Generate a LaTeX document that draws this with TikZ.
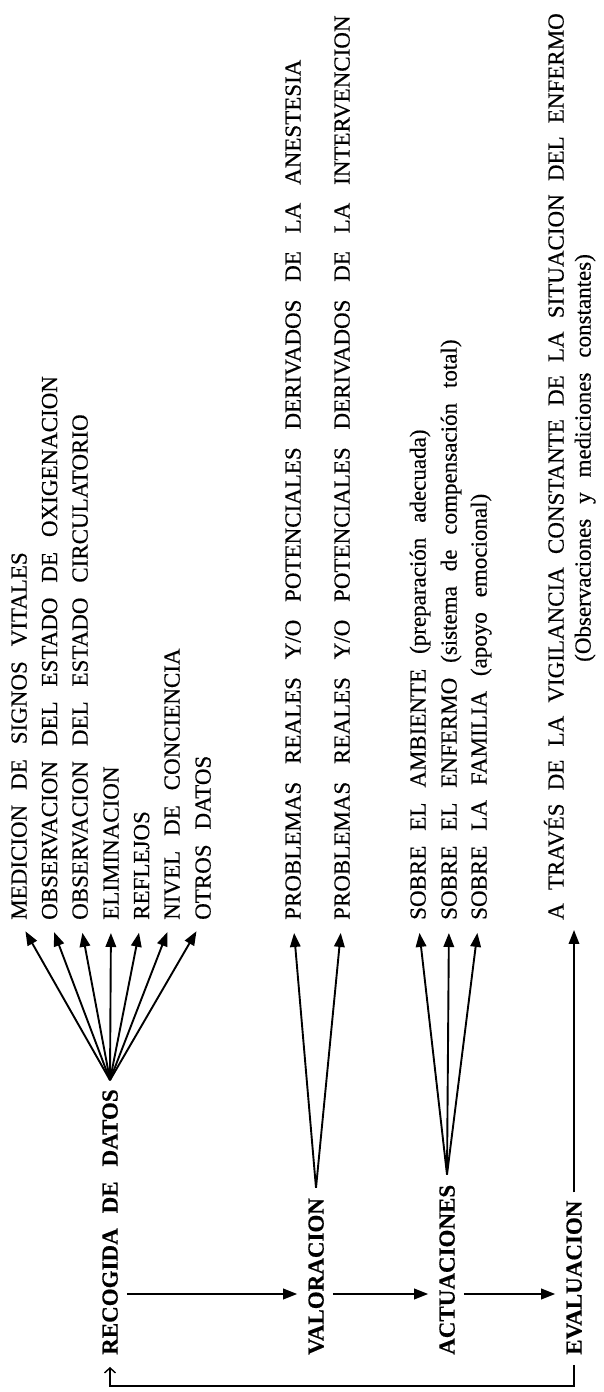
\documentclass[tikz,border=0pt]{standalone}
\usepackage{fontspec}
\setmainfont{Liberation Serif}[WordSpace=2.6,FakeBold=0.4]
\usetikzlibrary{arrows.meta}

\newcommand\loosesp{\spaceskip 17.8pt\relax}
\newcommand\tightsp{\spaceskip 13.2pt\relax}

\tikzset{
  item/.style={rotate=90,anchor=west,inner sep=0pt,text height=15.2pt,text depth=0pt,
    font=\fontsize{23}{27}\selectfont},
  stage/.style={item,font=\fontsize{23}{27}\selectfont\bfseries},
  loose/.style={font=\fontsize{23}{27}\selectfont\loosesp},
  tight/.style={font=\fontsize{23}{27}\selectfont\tightsp},
  flow/.style={line width=1.9pt,-{Triangle[length=14pt,width=10.5pt]}},
  back/.style={line width=1.4pt,-{Straight Barb[length=5pt,width=11pt]}}
}

\begin{document}
\begin{tikzpicture}[x=1pt,y=1pt]
\useasboundingbox (0,0) rectangle (604,1392);

% etapas
\node[stage] (rec) at (110,37) {RECOGIDA DE DATOS};
\node[stage] (val) at (316,37) {VALORACION};
\node[stage] (act) at (447,37) {ACTUACIONES};
\node[stage] (eva) at (574,37) {EVALUACION};

% recogida de datos
\node[item] (m1) at (19,472) {MEDICION DE SIGNOS VITALES};
\node[item] (m2) at (49.5,472) {OBSERVACION DEL ESTADO DE OXIGENACION};
\node[item] (m3) at (80,472) {OBSERVACION DEL ESTADO CIRCULATORIO};
\node[item] (m4) at (111,472) {ELIMINACION};
\node[item] (m5) at (141.5,472) {REFLEJOS};
\node[item] (m6) at (172,472) {NIVEL DE CONCIENCIA};
\node[item] (m7) at (203,472) {OTROS DATOS};

% valoracion
\node[item,loose] (p1) at (293,472) {PROBLEMAS REALES Y/O POTENCIALES DERIVADOS DE LA ANESTESIA};
\node[item,loose] (p2) at (342,472) {PROBLEMAS REALES Y/O POTENCIALES DERIVADOS DE LA INTERVENCION};

% actuaciones
\node[item] (s1) at (418,472) {SOBRE EL AMBIENTE (preparación adecuada)};
\node[item] (s2) at (449,472) {SOBRE EL ENFERMO (sistema de compensación total)};
\node[item] (s3) at (479,472) {SOBRE LA FAMILIA (apoyo emocional)};

% evaluacion
\node[item,tight] (t1) at (556,472) {A TRAVÉS DE LA VIGILANCIA CONSTANTE DE LA SITUACION DEL ENFERMO};
\node[item] (t2) at (583,730) {(Observaciones y mediciones constantes)};

\coordinate (recTop) at ([yshift=9pt]rec.east);
\coordinate (valTop) at ([yshift=10pt]val.east);
\coordinate (actTop) at ([yshift=10pt]act.east);
\coordinate (lvl) at (0,98);

\draw[flow,shorten >=13pt] (recTop) -- (m1.west);
\draw[flow,shorten >=13pt] (recTop) -- (m2.west);
\draw[flow,shorten >=13pt] (recTop) -- (m3.west);
\draw[flow,shorten >=13pt] (recTop) -- (m4.west);
\draw[flow,shorten >=13pt] (recTop) -- (m5.west);
\draw[flow,shorten >=13pt] (recTop) -- (m6.west);
\draw[flow,shorten >=13pt] (recTop) -- (m7.west);

\draw[flow,shorten >=13pt] (valTop) -- (p1.west);
\draw[flow,shorten >=13pt] (valTop) -- (p2.west);

\draw[flow,shorten >=13pt] (actTop) -- (s1.west);
\draw[flow,shorten >=13pt] (actTop) -- (s2.west);
\draw[flow,shorten >=13pt] (actTop) -- (s3.west);

\draw[flow,shorten <=8pt,shorten >=10pt] (eva.east) -- (eva.east |- t1.west);

\draw[flow,shorten <=9pt,shorten >=11pt] (rec.south |- lvl) -- (val.north |- lvl);
\draw[flow,shorten <=9pt,shorten >=11pt] (val.south |- lvl) -- (act.north |- lvl);
\draw[flow,shorten <=9pt,shorten >=11pt] (act.south |- lvl) -- (eva.north |- lvl);

\draw[back] ([yshift=-10pt]eva.west) -- ++(0,-21) -| ([yshift=-12pt]rec.west);
\end{tikzpicture}
\end{document}
